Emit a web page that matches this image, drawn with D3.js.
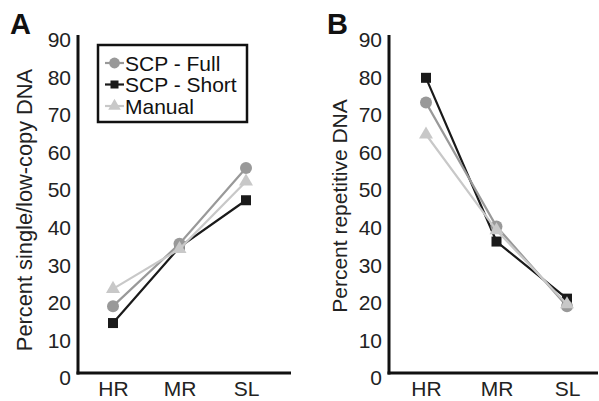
<!DOCTYPE html>
<html>
<head>
  <meta charset="utf-8">
  <script src="https://d3js.org/d3.v7.min.js"></script>
  <style>
    body { margin: 0; background: #fff; }
    svg { display: block; font-family: "Liberation Sans", Arial, sans-serif; }
  </style>
</head>
<body>
  <svg id="chart" width="599" height="401"></svg>
  <script>
    // Data
    const CATEGORIES   = ["HR", "MR", "SL"];
    const Y_TICKS      = [0, 10, 20, 30, 40, 50, 60, 70, 80, 90];
    const SERIES_NAMES = ["SCP - Full", "SCP - Short", "Manual"];

    const SINGLE_FULL    = [17.8, 34.4, 54.6];
    const SINGLE_SHORT   = [13.3, 33.5, 46.0];
    const SINGLE_MANUAL  = [22.4, 33.0, 51.0];

    const REPEAT_FULL    = [72.0, 39.0, 17.8];
    const REPEAT_SHORT   = [78.6, 35.0, 19.8];
    const REPEAT_MANUAL  = [63.5, 38.0, 18.3];

    // Styles
    const COLORS   = { "SCP - Full": "#999999", "SCP - Short": "#1a1a1a", "Manual": "#c8c8c8" };
    const SYMBOLS  = { "SCP - Full": "circle", "SCP - Short": "square", "Manual": "triangle" };
    const DRAW_ORDER = ["SCP - Short", "SCP - Full", "Manual"];
    const FONT_SIZE = 21;

    const svg = d3.select("#chart");

    const yScale = d3.scaleLinear().domain([0, 90]).range([373, 35]);

    function marker(g, type, x, y, color, size) {
      if (type === "circle") {
        g.append("circle").attr("cx", x).attr("cy", y).attr("r", size * 0.6).attr("fill", color);
      } else if (type === "square") {
        g.append("rect").attr("x", x - size / 2).attr("y", y - size / 2)
          .attr("width", size).attr("height", size).attr("fill", color);
      } else {
        const s = d3.symbol().type(d3.symbolTriangle).size(size * size * 0.85);
        g.append("path").attr("transform", `translate(${x},${y})`).attr("d", s()).attr("fill", color);
      }
    }

    function drawPanel(opts) {
      const g = svg.append("g");
      const xScale = d3.scalePoint().domain(CATEGORIES).range(opts.xRange);

      // axes lines
      g.append("line").attr("x1", opts.axisX).attr("x2", opts.axisX)
        .attr("y1", yScale(90)).attr("y2", yScale(0) + 1.5)
        .attr("stroke", "#111").attr("stroke-width", 3);
      g.append("line").attr("x1", opts.axisX - 1.5).attr("x2", opts.axisRight)
        .attr("y1", yScale(0)).attr("y2", yScale(0))
        .attr("stroke", "#111").attr("stroke-width", 3);

      // y tick labels
      const yAxis = d3.axisLeft(yScale).tickValues(Y_TICKS).tickSize(0).tickPadding(7);
      const ya = g.append("g").attr("transform", `translate(${opts.axisX},5)`).call(yAxis);
      ya.select(".domain").remove();
      ya.selectAll("text").attr("font-size", FONT_SIZE).attr("fill", "#222")
        .attr("font-family", "Liberation Sans, Arial, sans-serif");

      // x tick labels
      const xAxis = d3.axisBottom(xScale).tickSize(0).tickPadding(8);
      const xa = g.append("g").attr("transform", `translate(0,${yScale(0)})`).call(xAxis);
      xa.select(".domain").remove();
      xa.selectAll("text").attr("font-size", FONT_SIZE).attr("fill", "#222")
        .attr("font-family", "Liberation Sans, Arial, sans-serif");

      // axis title
      g.append("text")
        .attr("transform", `translate(${opts.titleX},${opts.titleY}) rotate(-90)`)
        .attr("text-anchor", "middle").attr("font-size", opts.titleSize).attr("fill", "#222")
        .text(opts.title);

      // panel letter
      g.append("text").attr("x", opts.letterX).attr("y", 34)
        .attr("font-size", 29).attr("font-weight", "bold").attr("fill", "#111")
        .text(opts.letter);

      // series
      const line = d3.line().x((d, i) => xScale(CATEGORIES[i])).y(d => yScale(d));
      DRAW_ORDER.forEach(name => {
        const vals = opts.series[name];
        g.append("path").attr("d", line(vals)).attr("fill", "none")
          .attr("stroke", COLORS[name]).attr("stroke-width", 2.2);
        vals.forEach((v, i) => marker(g, SYMBOLS[name], xScale(CATEGORIES[i]), yScale(v), COLORS[name], 10));
      });
    }

    drawPanel({
      letter: "A", letterX: 10,
      title: "Percent single/low-copy DNA", titleX: 32, titleY: 210, titleSize: 21.8,
      axisX: 78, axisRight: 291, xRange: [113, 246],
      series: { "SCP - Full": SINGLE_FULL, "SCP - Short": SINGLE_SHORT, "Manual": SINGLE_MANUAL }
    });

    drawPanel({
      letter: "B", letterX: 327,
      title: "Percent repetitive DNA", titleX: 347, titleY: 206, titleSize: 21,
      axisX: 389, axisRight: 598, xRange: [426, 567],
      series: { "SCP - Full": REPEAT_FULL, "SCP - Short": REPEAT_SHORT, "Manual": REPEAT_MANUAL }
    });

    // legend
    const legend = svg.append("g");
    legend.append("rect").attr("x", 98).attr("y", 45).attr("width", 149).attr("height", 77)
      .attr("fill", "#fff").attr("stroke", "#111").attr("stroke-width", 2.5);
    SERIES_NAMES.forEach((name, i) => {
      const cy = 63 + i * 21.5;
      legend.append("line").attr("x1", 105).attr("x2", 124).attr("y1", cy).attr("y2", cy)
        .attr("stroke", COLORS[name]).attr("stroke-width", 2.2);
      marker(legend, SYMBOLS[name], 114.5, cy, COLORS[name], name === "SCP - Short" ? 8 : 9);
      legend.append("text").attr("x", 125).attr("y", cy + 7.5)
        .attr("font-size", FONT_SIZE).attr("fill", "#111").text(name);
    });
  </script>
</body>
</html>
